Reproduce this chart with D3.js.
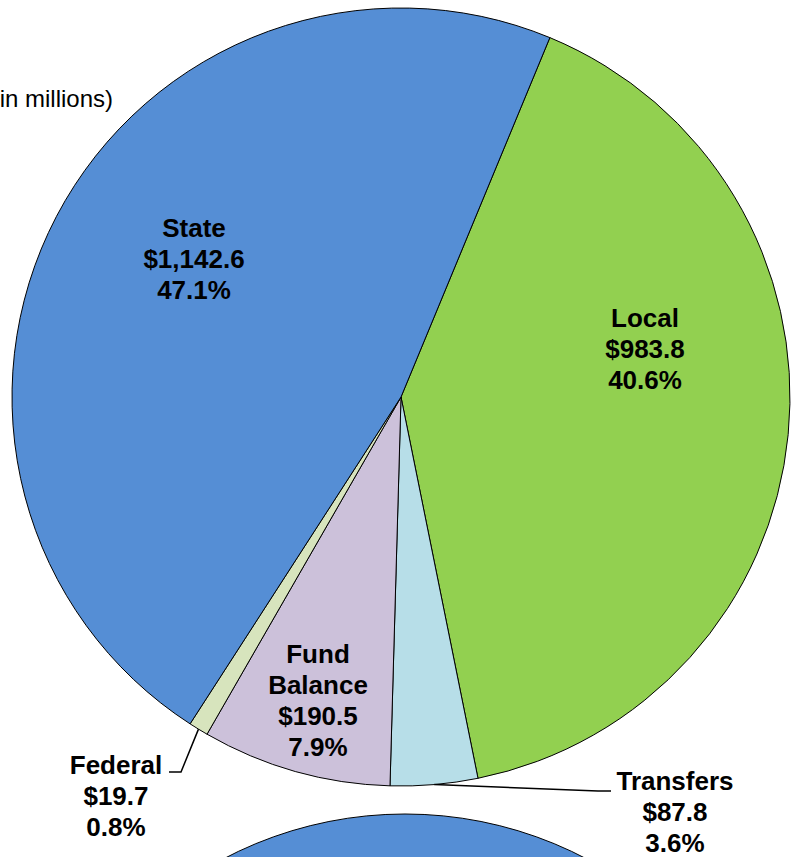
<!DOCTYPE html>
<html>
<head>
<meta charset="utf-8">
<script src="https://cdn.jsdelivr.net/npm/d3@7"></script>
<style>
  html, body { margin: 0; padding: 0; background: #fff; overflow: hidden; }
  svg { display: block; font-family: Arial, "Liberation Sans", sans-serif; }
</style>
</head>
<body>
<svg id="chart" width="795" height="857"></svg>
<script>
// data, in clockwise order starting at the State/Local boundary
const categories = ["Local", "Transfers", "Fund Balance", "Federal", "State"];
const amounts = [983.8, 87.8, 190.5, 19.7, 1142.6];
const percents = ["40.6%", "3.6%", "7.9%", "0.8%", "47.1%"];
const colors = ["#92D050", "#B7DEE8", "#CCC1DA", "#D7E4BD", "#558ED5"];

const width = 795, height = 857;
const cx = 401, cy = 397, radius = 389;
const startDeg = 22.5;

// label layout: centre x / first baseline, and optional leader elbow
const labelLayout = {
  "Local":        { x: 645, y: 327 },
  "Transfers":    { x: 675, y: 790, leader: { elbow: [598, 791], end: [611, 791] } },
  "Fund Balance": { x: 318, y: 663, lines: ["Fund", "Balance"] },
  "Federal":      { x: 116, y: 774, leader: { elbow: [181, 772], end: [169, 772] } },
  "State":        { x: 194, y: 237 }
};
const lineH = 31;

const svg = d3.select("#chart");
const fmt = d3.format(",.1f");

const rows = categories.map((c, i) => ({ name: c, value: amounts[i], pct: percents[i], color: colors[i] }));

const pie = d3.pie()
  .sort(null)
  .value(d => d.value)
  .startAngle(startDeg * Math.PI / 180)
  .endAngle(startDeg * Math.PI / 180 + 2 * Math.PI);

const arc = d3.arc().innerRadius(0).outerRadius(radius);
const edgeArc = d3.arc().innerRadius(radius).outerRadius(radius);

// second pie peeking in at the bottom (only its blue top is visible)
svg.append("circle")
  .attr("cx", 405)
  .attr("cy", 1204)
  .attr("r", 390)
  .attr("fill", "#558ED5")
  .attr("stroke", "#000")
  .attr("stroke-width", 1);

// units note, clipped at the left like the original
svg.append("text")
  .attr("x", 113)
  .attr("y", 107)
  .attr("text-anchor", "end")
  .attr("font-size", 24)
  .attr("fill", "#000")
  .text("(in millions)");

const g = svg.append("g").attr("transform", `translate(${cx},${cy})`);
const arcs = pie(rows);

g.selectAll("path.slice")
  .data(arcs)
  .join("path")
  .attr("class", "slice")
  .attr("d", arc)
  .attr("fill", d => d.data.color)
  .attr("stroke", "#000")
  .attr("stroke-width", 1)
  .attr("stroke-linejoin", "round");

// leader lines
arcs.forEach(a => {
  const lay = labelLayout[a.data.name];
  if (!lay.leader) return;
  const [px, py] = edgeArc.centroid(a);
  const pts = [[cx + px, cy + py], lay.leader.elbow, lay.leader.end];
  svg.append("path")
    .attr("d", d3.line()(pts))
    .attr("fill", "none")
    .attr("stroke", "#000")
    .attr("stroke-width", 1.5);
});

// labels
arcs.forEach(a => {
  const lay = labelLayout[a.data.name];
  const lines = (lay.lines || [a.data.name]).concat(["$" + fmt(a.data.value), a.data.pct]);
  const t = svg.append("text")
    .attr("text-anchor", "middle")
    .attr("font-size", 26)
    .attr("font-weight", "bold")
    .attr("fill", "#000");
  lines.forEach((s, i) => {
    t.append("tspan")
      .attr("x", lay.x)
      .attr("y", lay.y + i * lineH)
      .text(s);
  });
});
</script>
</body>
</html>
